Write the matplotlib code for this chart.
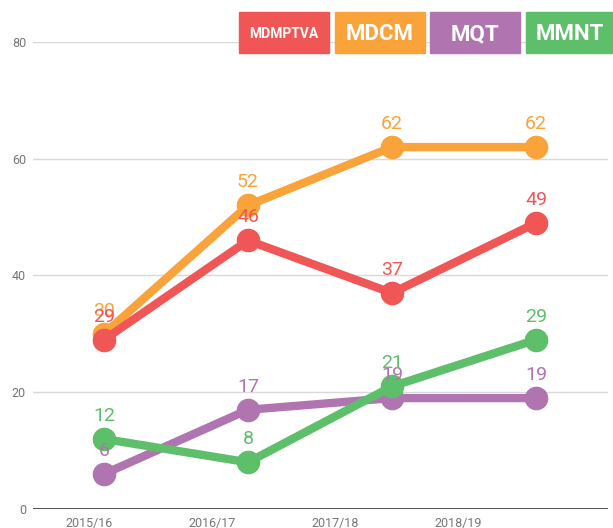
import matplotlib.pyplot as plt
from matplotlib.patches import Rectangle

plt.rcParams['font.family'] = ['Roboto', 'DejaVu Sans']

anni = ['2015/16', '2016/17', '2017/18', '2018/19']
serie = ['MDCM', 'MDMPTVA', 'MQT', 'MMNT']
valori = {
    'MDCM': [30, 52, 62, 62],
    'MDMPTVA': [29, 46, 37, 49],
    'MQT': [6, 17, 19, 19],
    'MMNT': [12, 8, 21, 29],
}
colori = {
    'MDMPTVA': '#f05656',
    'MDCM': '#f9a33a',
    'MQT': '#b075b0',
    'MMNT': '#5ebf6b',
}
# ordine dei riquadri della legenda in alto
legenda = ['MDMPTVA', 'MDCM', 'MQT', 'MMNT']

W, H = 613, 528
fig = plt.figure(figsize=(W / 100, H / 100), dpi=100)
ax = fig.add_axes([33 / W, 19 / H, 575 / W, 467 / H])

x = list(range(len(anni)))
for nome in serie:
    ax.plot(x, valori[nome], color=colori[nome], lw=6, marker='o', ms=16,
            solid_capstyle='round', zorder=3, clip_on=False)
for nome in serie:
    for xi, v in zip(x, valori[nome]):
        ax.annotate(str(v), (xi, v), xytext=(0, 13), textcoords='offset points',
                    ha='center', va='baseline', fontsize=14, color=colori[nome],
                    zorder=5, annotation_clip=False)

ax.set_xlim(-0.493, 3.5)
ax.set_ylim(0, 80)
ax.set_yticks([0, 20, 40, 60, 80])
ax.grid(axis='y', color='#d9d9d9', lw=1)
ax.set_axisbelow(True)
ax.axhline(0, color='#333333', lw=1.2, zorder=2)

# etichette degli anni sotto l'asse
ax.set_xticks([-0.104 + 0.854 * i for i in range(len(anni))])
ax.set_xticklabels(anni)
ax.tick_params(axis='both', length=0, labelsize=9, labelcolor='#777777')
ax.tick_params(axis='y', pad=5)
ax.tick_params(axis='x', pad=6)
for s in ax.spines.values():
    s.set_visible(False)

# riquadri colorati della legenda
box_x = [239, 335, 430, 526]
box_w = [90, 90, 90, 87]
for nome, bx, bw in zip(legenda, box_x, box_w):
    fig.patches.append(Rectangle((bx / W, 1 - 53 / H), bw / W, 41 / H,
                                 transform=fig.transFigure, color=colori[nome]))
    size = 10 if nome == 'MDMPTVA' else 16
    fig.text((bx + bw / 2) / W, 1 - 34 / H, nome, ha='center', va='center',
             color='white', fontsize=size, fontweight='bold')

fig.savefig('out.png', dpi=100)
